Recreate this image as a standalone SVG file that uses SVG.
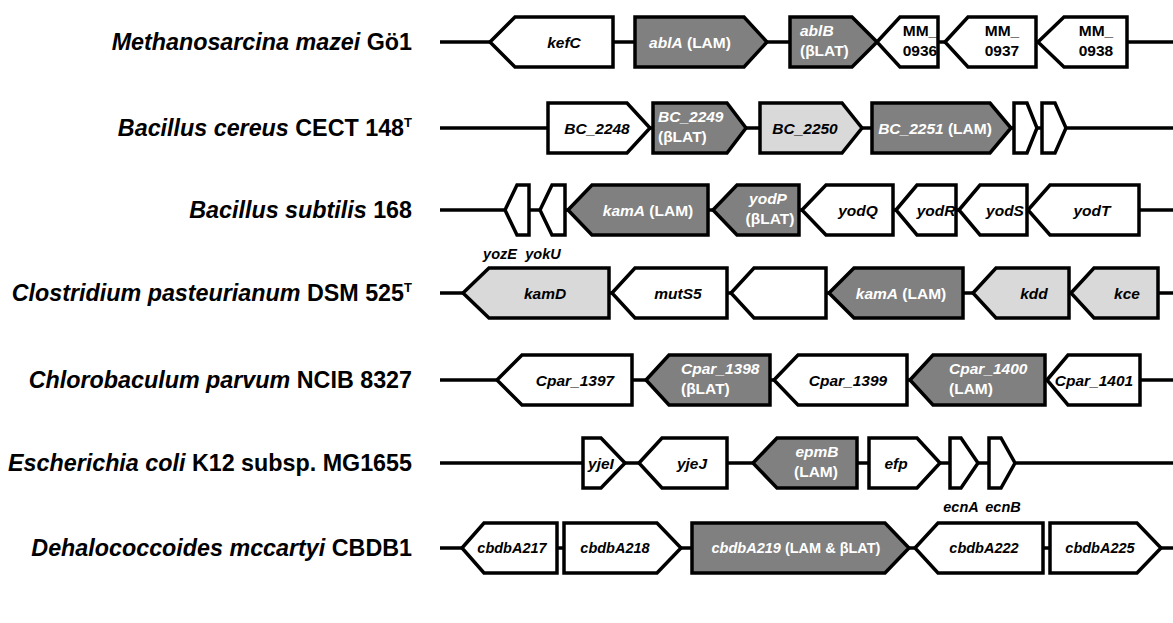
<svg xmlns="http://www.w3.org/2000/svg" width="1173" height="623" viewBox="0 0 1173 623">
<style>
.bb{stroke:#000;stroke-width:3.5;fill:none}
.gw,.gl,.gd{stroke:#000;stroke-width:3.5;stroke-linejoin:miter}
.gw{fill:#fff}.gl{fill:#d9d9d9}.gd{fill:#808080}
text{font-family:"Liberation Sans",Arial,sans-serif;font-weight:bold}
.sp{font-size:23.3px;text-anchor:end}
.t{font-size:15.5px;text-anchor:middle}
.s{font-size:14.5px;text-anchor:middle}
.st{text-anchor:start}
.i{font-style:italic}
.w{fill:#fff}
</style>
<g id="labels">
<text class="sp" x="412" y="50"><tspan class="i">Methanosarcina mazei</tspan> Gö1</text>
<text class="sp" x="412" y="136"><tspan class="i">Bacillus cereus</tspan> CECT 148<tspan font-size="13" dy="-9">T</tspan></text>
<text class="sp" x="412" y="218"><tspan class="i">Bacillus subtilis</tspan> 168</text>
<text class="sp" x="412" y="301"><tspan class="i">Clostridium pasteurianum</tspan> DSM 525<tspan font-size="13" dy="-9">T</tspan></text>
<text class="sp" x="412" y="388"><tspan class="i">Chlorobaculum parvum</tspan> NCIB 8327</text>
<text class="sp" x="412" y="471"><tspan class="i">Escherichia coli</tspan> K12 subsp. MG1655</text>
<text class="sp" x="412" y="556"><tspan class="i">Dehalococcoides mccartyi</tspan> CBDB1</text>
</g>
<g id="connectors">
<line class="bb" x1="440" y1="42" x2="1173" y2="42"/>
<line class="bb" x1="440" y1="128" x2="1173" y2="128"/>
<line class="bb" x1="440" y1="210" x2="1173" y2="210"/>
<line class="bb" x1="440" y1="293" x2="1173" y2="293"/>
<line class="bb" x1="440" y1="380" x2="1173" y2="380"/>
<line class="bb" x1="440" y1="463" x2="1173" y2="463"/>
<line class="bb" x1="440" y1="548" x2="1173" y2="548"/>
</g>
<g id="row1">
<g id="kefC"><polygon class="gw" points="490,42 515,17 613,17 613,67 515,67"/><text class="t i" x="564" y="48">kefC</text></g>
<g id="ablA"><polygon class="gd" points="635,17 744,17 767,42 744,67 635,67"/><text class="t w" x="690" y="48"><tspan class="i">ablA</tspan> (LAM)</text></g>
<g id="ablB"><polygon class="gd" points="790,17 852,17 877,42 852,67 790,67"/><text class="t w st i" x="800" y="36">ablB</text><text class="t w st" x="800" y="56">(βLAT)</text></g>
<g id="MM_0936"><polygon class="gw" points="877,42 900,17 938,17 938,67 900,67"/><text class="t" x="920" y="36">MM_</text><text class="t" x="920" y="56">0936</text></g>
<g id="MM_0937"><polygon class="gw" points="945,42 968,17 1036,17 1036,67 968,67"/><text class="t" x="1002" y="36">MM_</text><text class="t" x="1002" y="56">0937</text></g>
<g id="MM_0938"><polygon class="gw" points="1038,42 1064,17 1127,17 1127,67 1064,67"/><text class="t" x="1096" y="36">MM_</text><text class="t" x="1096" y="56">0938</text></g>
</g>
<g id="row2">
<g id="BC_2248"><polygon class="gw" points="548,103 627,103 650,128 627,153 548,153"/><text class="t i" x="597" y="134">BC_2248</text></g>
<g id="BC_2249"><polygon class="gd" points="653,103 727,103 746,128 727,153 653,153"/><text class="t w st i" x="658" y="122">BC_2249</text><text class="t w st" x="658" y="142">(βLAT)</text></g>
<g id="BC_2250"><polygon class="gl" points="760,103 842,103 862,128 842,153 760,153"/><text class="t i" x="805" y="134">BC_2250</text></g>
<g id="BC_2251"><polygon class="gd" points="872,103 990,103 1011,128 990,153 872,153"/><text class="t w" x="935" y="134"><tspan class="i">BC_2251</tspan> (LAM)</text></g>
<g id="small1"><polygon class="gw" points="1014,103 1027,103 1037,128 1027,153 1014,153"/></g>
<g id="small2"><polygon class="gw" points="1042,103 1055,103 1066,128 1055,153 1042,153"/></g>
</g>
<g id="row3">
<g id="yozE"><polygon class="gw" points="505,210 517,185 529,185 529,235 517,235"/><text class="s i" x="500" y="259">yozE</text></g>
<g id="yokU"><polygon class="gw" points="540,210 552,185 565,185 565,235 552,235"/><text class="s i" x="543" y="259">yokU</text></g>
<g id="kamA_bs"><polygon class="gd" points="568,210 592,185 708,185 708,235 592,235"/><text class="t w" x="648" y="216"><tspan class="i">kamA</tspan> (LAM)</text></g>
<g id="yodP"><polygon class="gd" points="713,210 737,185 799,185 799,235 737,235"/><text class="t w i" x="768" y="204">yodP</text><text class="t w" x="770" y="224">(βLAT)</text></g>
<g id="yodQ"><polygon class="gw" points="802,210 826,185 893,185 893,235 826,235"/><text class="t i" x="858" y="216">yodQ</text></g>
<g id="yodR"><polygon class="gw" points="896,210 917,185 956,185 956,235 917,235"/><text class="t i" x="936" y="216">yodR</text></g>
<g id="yodS"><polygon class="gw" points="959,210 980,185 1027,185 1027,235 980,235"/><text class="t i" x="1005" y="216">yodS</text></g>
<g id="yodT"><polygon class="gw" points="1028,210 1050,185 1139,185 1139,235 1050,235"/><text class="t i" x="1092" y="216">yodT</text></g>
</g>
<g id="row4">
<g id="kamD"><polygon class="gl" points="463,293 489,268 609,268 609,318 489,318"/><text class="t i" x="545" y="299">kamD</text></g>
<g id="mutS5"><polygon class="gw" points="612,293 635,268 727,268 727,318 635,318"/><text class="t i" x="678" y="299">mutS5</text></g>
<g id="blank"><polygon class="gw" points="731,293 754,268 826,268 826,318 754,318"/></g>
<g id="kamA_cp"><polygon class="gd" points="829,293 854,268 963,268 963,318 854,318"/><text class="t w" x="901" y="299"><tspan class="i">kamA</tspan> (LAM)</text></g>
<g id="kdd"><polygon class="gl" points="973,293 996,268 1069,268 1069,318 996,318"/><text class="t i" x="1034" y="299">kdd</text></g>
<g id="kce"><polygon class="gl" points="1071,293 1094,268 1158,268 1158,318 1094,318"/><text class="t i" x="1127" y="299">kce</text></g>
</g>
<g id="row5">
<g id="Cpar_1397"><polygon class="gw" points="497,380 522,355 632,355 632,405 522,405"/><text class="t i" x="575" y="386">Cpar_1397</text></g>
<g id="Cpar_1398"><polygon class="gd" points="646,380 669,355 770,355 770,405 669,405"/><text class="t w st i" x="681" y="374">Cpar_1398</text><text class="t w st" x="681" y="394">(βLAT)</text></g>
<g id="Cpar_1399"><polygon class="gw" points="774,380 798,355 907,355 907,405 798,405"/><text class="t i" x="848" y="386">Cpar_1399</text></g>
<g id="Cpar_1400"><polygon class="gd" points="910,380 933,355 1045,355 1045,405 933,405"/><text class="t w st i" x="949" y="374">Cpar_1400</text><text class="t w st" x="949" y="394">(LAM)</text></g>
<g id="Cpar_1401"><polygon class="gw" points="1047,380 1068,355 1140,355 1140,405 1068,405"/><text class="t i" x="1094" y="386">Cpar_1401</text></g>
</g>
<g id="row6">
<g id="yjeI"><polygon class="gw" points="583,438 601,438 625,463 601,488 583,488"/><text class="t i" x="601" y="469">yjeI</text></g>
<g id="yjeJ"><polygon class="gw" points="639,463 662,438 727,438 727,488 662,488"/><text class="t i" x="692" y="469">yjeJ</text></g>
<g id="epmB"><polygon class="gd" points="753,463 777,438 857,438 857,488 777,488"/><text class="t w i" x="817" y="457">epmB</text><text class="t w" x="816" y="477">(LAM)</text></g>
<g id="efp"><polygon class="gw" points="869,438 917,438 940,463 917,488 869,488"/><text class="t i" x="896" y="469">efp</text></g>
<g id="ecnA"><polygon class="gw" points="950,438 961,438 978,463 961,488 950,488"/><text class="s i" x="961" y="512">ecnA</text></g>
<g id="ecnB"><polygon class="gw" points="989,438 1001,438 1015,463 1001,488 989,488"/><text class="s i" x="1003" y="512">ecnB</text></g>
</g>
<g id="row7">
<g id="cbdbA217"><polygon class="gw" points="462,548 484,523 557,523 557,573 484,573"/><text class="s i" x="512" y="553">cbdbA217</text></g>
<g id="cbdbA218"><polygon class="gw" points="564,523 657,523 681,548 657,573 564,573"/><text class="s i" x="615" y="553">cbdbA218</text></g>
<g id="cbdbA219"><polygon class="gd" points="692,523 885,523 909,548 885,573 692,573"/><text class="s w" x="796" y="553"><tspan class="i">cbdbA219</tspan> (LAM &amp; βLAT)</text></g>
<g id="cbdbA222"><polygon class="gw" points="915,548 938,523 1043,523 1043,573 938,573"/><text class="s i" x="984" y="553">cbdbA222</text></g>
<g id="cbdbA225"><polygon class="gw" points="1050,523 1137,523 1161,548 1137,573 1050,573"/><text class="s i" x="1100" y="553">cbdbA225</text></g>
</g>
</svg>
